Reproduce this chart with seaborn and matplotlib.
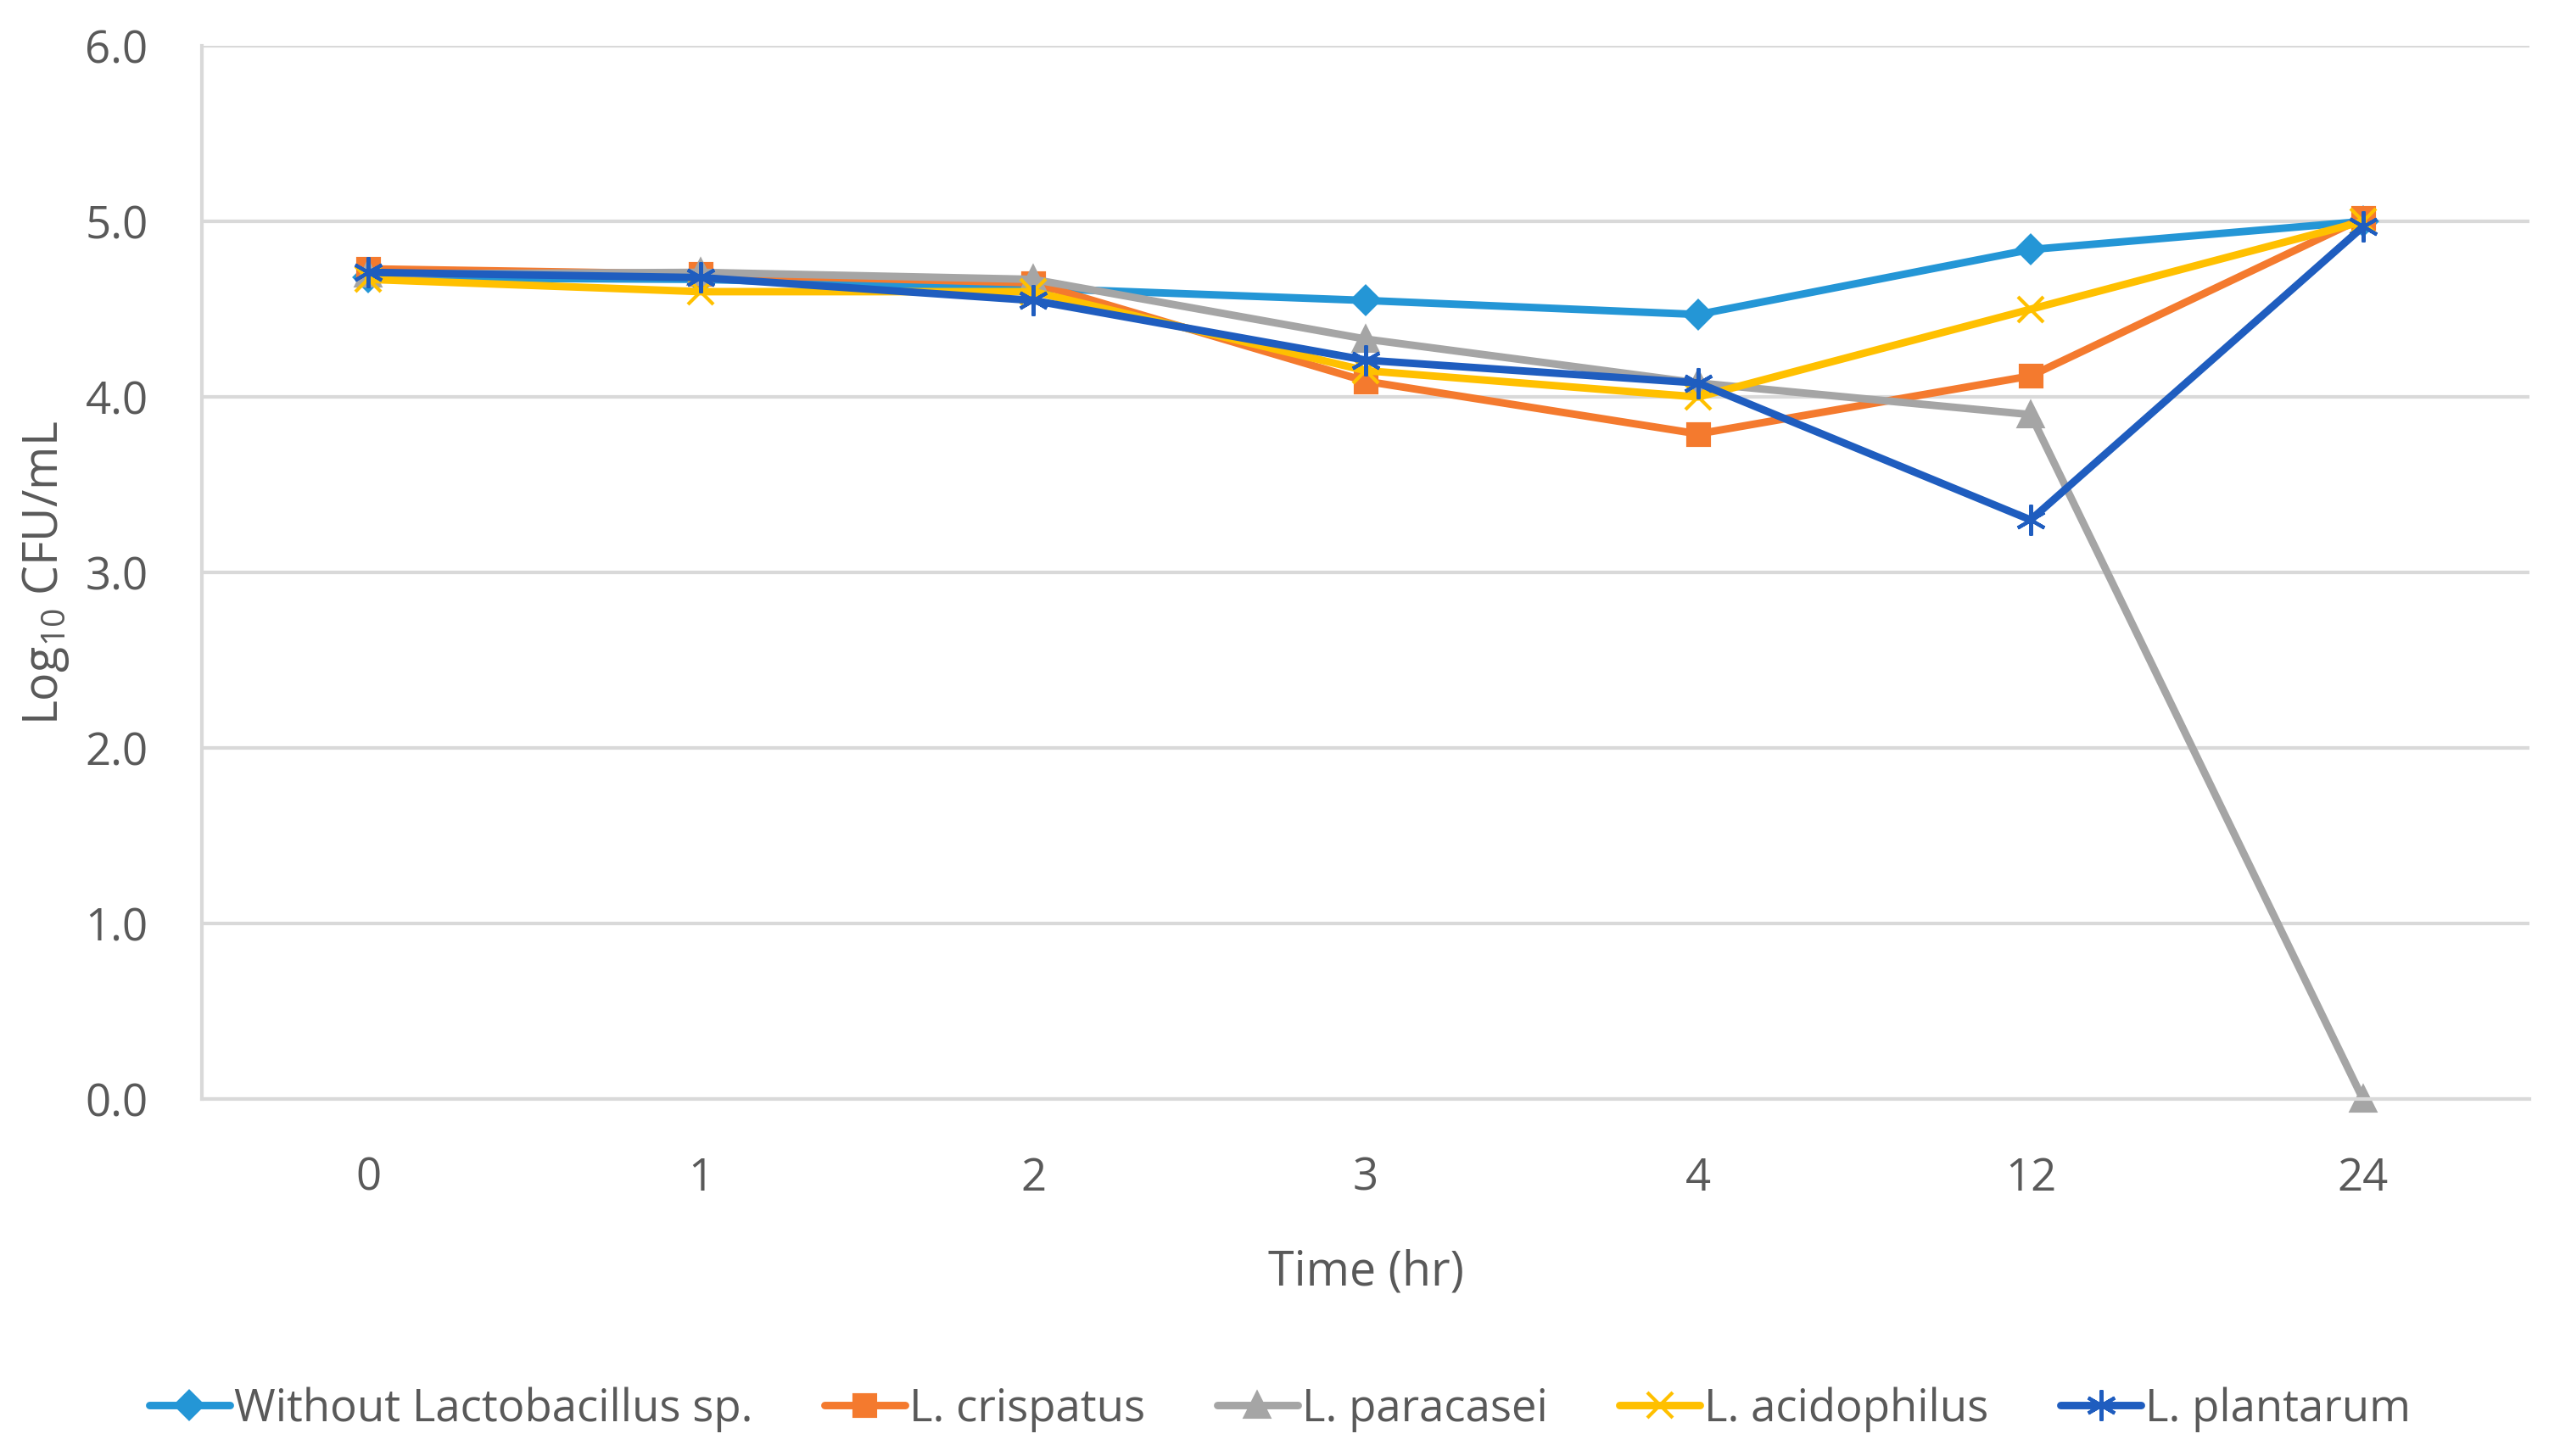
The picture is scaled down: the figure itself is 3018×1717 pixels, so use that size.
import numpy as np
import pandas as pd
import matplotlib
matplotlib.use("Agg")
import matplotlib.pyplot as plt
import seaborn as sns

# values
times = ["0", "1", "2", "3", "4", "12", "24"]
without_lacto = [4.68, 4.67, 4.62, 4.55, 4.47, 4.84, 5.00]
l_crispatus = [4.73, 4.70, 4.65, 4.09, 3.79, 4.12, 5.02]
l_paracasei = [4.70, 4.71, 4.67, 4.33, 4.08, 3.90, 0.00]
l_acidophilus = [4.67, 4.60, 4.60, 4.15, 4.00, 4.50, 5.00]
l_plantarum = [4.71, 4.68, 4.55, 4.21, 4.08, 3.30, 4.97]

names = ["Without Lactobacillus sp.", "L. crispatus", "L. paracasei",
         "L. acidophilus", "L. plantarum"]
series = [without_lacto, l_crispatus, l_paracasei, l_acidophilus, l_plantarum]
colors = ["#2496D6", "#F47A2E", "#A5A5A5", "#FFC000", "#1F5DBF"]
markers = ["D", "s", "^", "x", (6, 2, 0)]
sizes = [8, 9, 10, 11, 13]

sns.set_style("white")
plt.rcParams['font.family'] = ['Open Sans', 'DejaVu Sans']
plt.rcParams['mathtext.fontset'] = 'custom'
plt.rcParams['mathtext.rm'] = 'Open Sans'

fig = plt.figure(figsize=(15.09, 8.585), dpi=200)
ax = fig.add_axes([0.079, 0.245, 0.909, 0.7235])

for name, vals, c, m, ms in zip(names, series, colors, markers, sizes):
    d = pd.DataFrame({"Time": times, "value": vals})
    sns.lineplot(data=d, x="Time", y="value", color=c, marker=m, markersize=ms,
                 markeredgecolor=c, markerfacecolor=c, markeredgewidth=1.5,
                 sort=False, linewidth=3.2, label=name, ax=ax, clip_on=False)

ax.set_ylim(0, 6)
ax.set_xlim(-0.5, 6.5)
ax.set_yticks(np.arange(0, 6.1, 1.0))
ax.set_yticklabels([f"{v:.1f}" for v in np.arange(0, 6.1, 1.0)])
ax.grid(axis="y", color="#D9D9D9", linewidth=1.5)
ax.set_axisbelow(True)
for s in ["top", "right"]:
    ax.spines[s].set_visible(False)
for s in ["left", "bottom"]:
    ax.spines[s].set_color("#D9D9D9")
    ax.spines[s].set_linewidth(1.5)
ax.tick_params(axis="both", length=0, labelsize=19, colors="#595959")
ax.tick_params(axis="y", pad=23)
ax.tick_params(axis="x", pad=24)

ax.set_xlabel("Time (hr)", fontsize=20, color="#595959", labelpad=20)
ax.set_ylabel(r"Log$_{10}$ CFU/mL", fontsize=20, color="#595959", labelpad=6)

handles, labels = ax.get_legend_handles_labels()
ax.get_legend().remove()
leg = fig.legend(handles, labels, loc="center", bbox_to_anchor=(0.5, 0.032),
                 ncol=5, frameon=False, fontsize=19, handlelength=1.8,
                 handletextpad=0.1, columnspacing=1.6)
for t in leg.get_texts():
    t.set_color("#595959")

fig.savefig("out.png", dpi=200)
